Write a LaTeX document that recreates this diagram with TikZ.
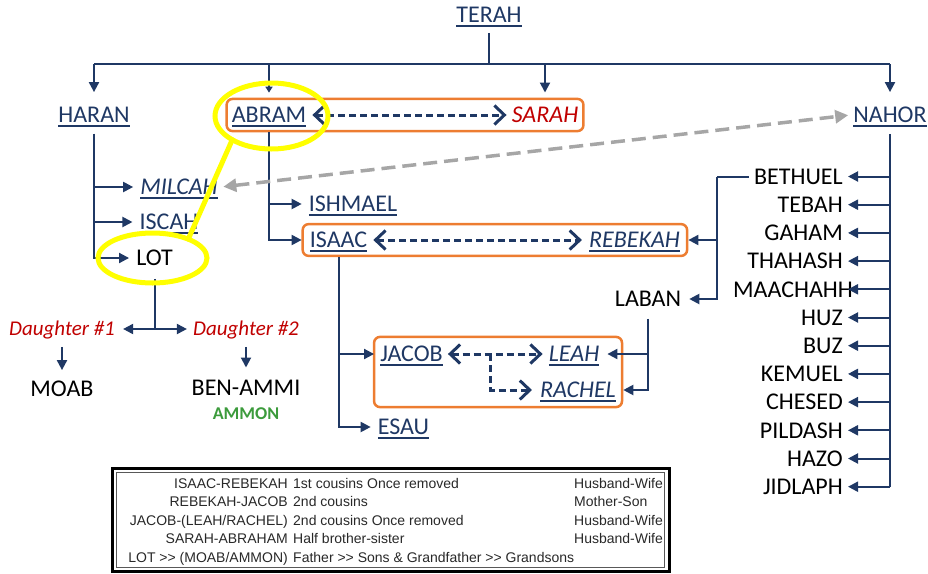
\documentclass[tikz,border=0pt]{standalone}
\usepackage{fontspec}
\setmainfont{Carlito}
\newfontfamily\legfont{Liberation Sans}
\usetikzlibrary{arrows.meta,fit,calc}
\definecolor{navy}{RGB}{31,56,100}
\definecolor{orng}{RGB}{237,125,49}
\definecolor{dred}{RGB}{192,0,0}
\definecolor{grn}{RGB}{60,155,60}
\definecolor{yel}{RGB}{255,255,0}
\definecolor{gry}{RGB}{166,166,166}
\definecolor{legtxt}{RGB}{40,40,40}
\newcommand\myul[1]{\setbox0\hbox{#1}\rlap{\rule[-4.6pt]{\wd0}{2pt}}\box0}
\tikzset{
  nm/.style={inner xsep=3pt, inner ysep=0pt, text height=15.4pt, text depth=0pt, font=\fontsize{24}{28}\selectfont},
  bl/.style={nm, text=navy},
  blk/.style={nm, text=black},
  dtr/.style={inner xsep=3pt, inner ysep=0pt, text height=13.5pt, text depth=0pt, font=\fontsize{21}{25}\selectfont\itshape, text=dred},
  ln/.style={draw=navy, line width=2pt},
  ar/.style={ln, -{Triangle[length=10pt,width=10pt]}},
  ars/.style={draw=navy, line width=1.6pt, -{Triangle[length=6pt,width=7pt]}},
  bt/.tip={Straight Barb[length=10pt,width=19pt,line width=3pt]},
  da/.style={draw=navy, line width=3pt, dash pattern=on 7pt off 4pt, {bt}-{bt}},
  dar/.style={draw=navy, line width=3pt, dash pattern=on 7pt off 4pt, -{bt}},
  ga/.style={draw=gry, line width=3.5pt, dash pattern=on 14pt off 7pt, {Triangle[length=13pt,width=13pt]}-{Triangle[length=13pt,width=13pt]}},
  ob/.style={draw=orng, line width=2.5pt, rounded corners=6pt},
  ye/.style={draw=yel, line width=5pt, line cap=round},
  lg/.style={font={\legfont\fontsize{14}{16}\selectfont}, text=legtxt, inner sep=0pt},
}
\begin{document}
\begin{tikzpicture}[x=1pt,y=-1pt]
\useasboundingbox (0,0) rectangle (928,573);
% names
\node[bl] (terah) at (489,15) {\myul{TERAH}};
\node[bl] (haran) at (94,115) {\myul{HARAN}};
\node[bl] (abram) at (269,115) {\myul{ABRAM}};
\node[nm, text=dred] (sarah) at (545,115) {\itshape SARAH};
\node[bl] (nahor) at (890,115) {\myul{NAHOR}};
\node[bl] (milcah) at (179,187) {\myul{\itshape MILCAH}};
\node[bl] (iscah) at (169,222) {\myul{ISCAH}};
\node[blk] (lot) at (154.5,258) {LOT};
\node[dtr] (d1) at (62,329) {Daughter \#1};
\node[dtr] (d2) at (246,329) {Daughter \#2};
\node[blk] (moab) at (62,389) {MOAB};
\node[blk] (benammi) at (246,388) {BEN-AMMI};
\node[font=\bfseries\fontsize{18}{20}\selectfont, text=grn, inner sep=0pt, text height=11.6pt, text depth=0pt] (ammon) at (246,414) {AMMON};
\node[bl] (ishmael) at (353,204) {\myul{ISHMAEL}};
\node[bl] (isaac) at (338.5,240) {\myul{ISAAC}};
\node[bl] (rebekah) at (634.5,240) {\myul{\itshape REBEKAH}};
\node[blk] (laban) at (648,299) {LABAN};
\node[bl] (jacob) at (411.5,354) {\myul{JACOB}};
\node[bl] (leah) at (574,354) {\myul{\itshape LEAH}};
\node[bl] (rachel) at (578,390) {\myul{\itshape RACHEL}};
\node[bl] (esau) at (403.5,427) {\myul{ESAU}};
\foreach \nm/\dx [count=\i from 0] in {BETHUEL/0,TEBAH/0,GAHAM/0,THAHASH/0,MAACHAHH/10,HUZ/0,BUZ/0,KEMUEL/0,CHESED/0,PILDASH/0,HAZO/0,JIDLAPH/0}
  \node[blk, anchor=east, inner xsep=5pt] (c\i) at ({848+\dx},{176.5+28.2*\i}) {\nm};
% boxes
\node[ob, fit=(abram)(sarah), inner xsep=2pt, inner ysep=8.2pt] (abox) {};
\node[ob, fit=(isaac)(rebekah), inner xsep=4pt, inner ysep=8pt] (ibox) {};
\node[ob, fit=(jacob)(leah)(rachel), inner xsep=3pt, inner ysep=9.2pt] (jbox) {};
% top level
\coordinate (jT) at (489,64);
\coordinate (jL) at (haran |- jT);
\coordinate (jA) at (abram |- jT);
\coordinate (jS) at (sarah |- jT);
\coordinate (jR) at (nahor |- jT);
\coordinate (aTip) at (abram |- abox.north);
\draw[ln] ([yshift=-10pt]terah.south) -- (jT);
\draw[ln] (jL) -- (jR);
\draw[ar] (jL) -- ([yshift=15pt]haran.north);
\draw[ars] (jA) -- ([yshift=5pt]aTip);
\draw[ar] (jS) -- ([yshift=14.6pt]sarah.north);
\draw[ar] (jR) -- ([yshift=15pt]nahor.north);
% haran
\coordinate (hb) at ([yshift=-11pt]haran.south);
\draw[ar, shorten >=4pt] (hb) |- (milcah.west);
\draw[ar, shorten >=4pt] (hb) |- (iscah.west);
\draw[ar, shorten >=4pt] (hb) |- (lot.west);
% lot
\coordinate (lotb) at ([yshift=-13pt]lot.south);
\coordinate (lotj) at (lot |- d1);
\draw[ln] (lotb) -- (lotj);
\draw[ar, shorten >=5pt] (lotj) -- (d1.east);
\draw[ar, shorten >=3pt] (lotj) -- (d2.west);
\draw[ar, shorten <=11pt, shorten >=11pt] (d1.south) -- (moab.north);
\draw[ar, shorten <=11pt, shorten >=12.6pt] (d2.south) -- (benammi.north);
% abram
\coordinate (ab) at (abram |- abox.south);
\draw[ar, shorten >=4pt] (ab) |- (ishmael.west);
\draw[ar, shorten >=5pt] (ab) |- (isaac.west);
\draw[da, shorten <=3pt, shorten >=2pt] (abram.east) -- (sarah.west);
% isaac
\draw[da, shorten <=3pt, shorten >=4pt] (isaac.east) -- (rebekah.west);
\coordinate (ib) at (isaac |- ibox.south);
\draw[ar, shorten >=3pt] (ib) |- (jacob.west);
\draw[ar, shorten >=4pt] (ib) |- (esau.west);
% jacob
\draw[da, shorten <=2pt, shorten >=3pt] (jacob.east) -- (leah.west);
\coordinate (jb) at ($(jacob.east)!0.45!(leah.west)$);
\draw[dar, shorten >=5pt] (jb) |- (rachel.west);
% bethuel, laban
\coordinate (bb) at (717,176.5);
\draw[ln] (c0.west) -- (bb);
\draw[ar] (bb) |- (ibox.east);
\draw[ar, shorten >=5pt] (bb) |- (laban.east);
\coordinate (lb) at ([yshift=-12pt]laban.south);
\coordinate (rT) at (jbox.east |- rachel.east);
\draw[ar, shorten >=5pt] (lb) |- (leah.east);
\draw[ar] (lb) |- (rT);
% nahor
\coordinate (nb) at ([yshift=-11pt]nahor.south);
\draw[ln, line width=2.6pt] (nb) -- (nb |- c11.east);
\foreach \i/\dx in {0/0,1/0,2/0,3/0,4/10,5/0,6/0,7/0,8/0,9/0,10/0,11/0}
  \draw[ar] (nb |- c\i.east) -- ([xshift={-\dx*1pt}]c\i.east);
% gray
\draw[ga, shorten <=2.5pt, shorten >=2pt] (milcah.east) -- (nahor.west);
% yellow
\coordinate (eA) at ($(abram.center)+(2.5,1)$);
\coordinate (eL) at ($(lot.center)+(-2,0)$);
\draw[ye] (eA) ellipse [x radius=56.5pt, y radius=33pt];
\draw[ye] (eL) ellipse [x radius=54.5pt, y radius=25pt];
\draw[ye] ($(eA)+(134:56.5 and 33)$) -- ($(eL)+(-49:54.5 and 25)$);
% legend
\draw[line width=3pt, black] (112,468) rectangle (669,571);
\draw[line width=1pt, draw=gray!70!black] (116.5,472.5) rectangle (664.5,567);
\node[lg, anchor=base east] (l1a) at (288,488) {ISAAC-REBEKAH};
\node[lg, anchor=base west] (l1b) at (293,488) {1st cousins Once removed};
\node[lg, anchor=base west] (l1c) at (574,488) {Husband-Wife};
\node[lg, anchor=base east] (l2a) at (288,506.5) {REBEKAH-JACOB};
\node[lg, anchor=base west] (l2b) at (293,506.5) {2nd cousins};
\node[lg, anchor=base west] (l2c) at (574,506.5) {Mother-Son};
\node[lg, anchor=base east] (l3a) at (288,525) {JACOB-(LEAH/RACHEL)};
\node[lg, anchor=base west] (l3b) at (293,525) {2nd cousins Once removed};
\node[lg, anchor=base west] (l3c) at (574,525) {Husband-Wife};
\node[lg, anchor=base east] (l4a) at (288,543.5) {SARAH-ABRAHAM};
\node[lg, anchor=base west] (l4b) at (293,543.5) {Half brother-sister};
\node[lg, anchor=base west] (l4c) at (574,543.5) {Husband-Wife};
\node[lg, anchor=base east] (l5a) at (288,562) {LOT >> (MOAB/AMMON)};
\node[lg, anchor=base west] (l5b) at (293,562) {Father >> Sons \& Grandfather >> Grandsons};
\end{tikzpicture}
\end{document}
